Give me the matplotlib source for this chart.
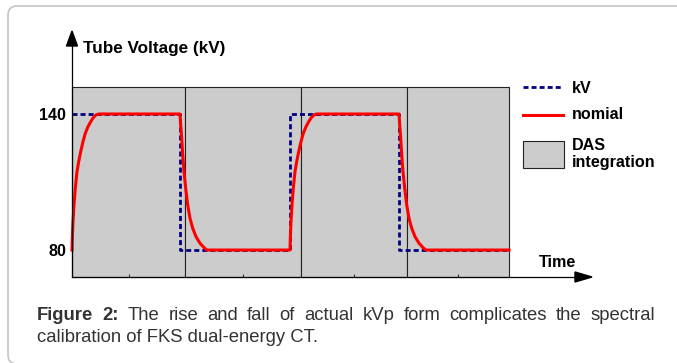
"""Tube voltage switching vs. DAS integration windows (fast kV switching)."""

import matplotlib.pyplot as plt
from matplotlib.patches import Rectangle, FancyBboxPatch, Polygon

plt.rcParams['font.family'] = ['Liberation Sans', 'DejaVu Sans']

# DAS integration windows (time, arbitrary units)
das_edges = [0, 113, 228.5, 335, 437]

# commanded kV: level held from each switch time on
kv_times = [0, 108, 218, 327, 437]
kv_levels = [140, 80, 140, 80, 80]

# actual tube voltage after a switch (offset from switch, kV)
rise_dt = [0, 0.3, 1.0, 2.0, 3.3, 5.0, 6.7, 8.7, 11.0, 13.3, 16.0, 18.7, 21.3, 24.0, 26.7]
rise_kv = [80, 85.1, 92.5, 99.9, 107.2, 114.6, 119.0, 123.4, 127.8, 131.5, 134.4,
           136.6, 138.4, 139.6, 140]
fall_dt = [0, 0.7, 1.7, 2.7, 4.0, 5.7, 7.7, 10.0, 12.7, 16.0, 20.0, 24.0, 26.7]
fall_kv = [140, 135.1, 129.3, 122.0, 114.6, 107.2, 99.9, 94.0, 89.6, 85.9, 83.0, 81.1, 80]

caption_line1 = [('Figure', 'bold'), ('2:', 'bold'), ('The', 'normal'), ('rise', 'normal'),
                 ('and', 'normal'), ('fall', 'normal'), ('of', 'normal'), ('actual', 'normal'),
                 ('kVp', 'normal'), ('form', 'normal'), ('complicates', 'normal'),
                 ('the', 'normal'), ('spectral', 'normal')]
caption_line2 = 'calibration of FKS dual-energy CT.'

# stitch the nominal curve together from the rise/fall pieces
t_nom, v_nom = [], []
for t0, level in zip(kv_times[:-1], kv_levels[:-1]):
    dt, kv = (rise_dt, rise_kv) if level == 140 else (fall_dt, fall_kv)
    t_nom += [t0 + d for d in dt]
    v_nom += kv
t_nom.append(kv_times[-1])
v_nom.append(kv_levels[-1])

W, H = 677, 363
L, R, T, B = 72, 509, 87, 277          # plot box in pixels
YLIM = (68.1, 151.9)
TXT = dict(fontsize=11.6, fontweight='bold', color='black')

fig = plt.figure(figsize=(W / 100, H / 100), dpi=100)
fig.patch.set_facecolor('white')

ax = fig.add_axes([L / W, 1 - B / H, (R - L) / W, (B - T) / H], zorder=1)
ax.set_xlim(das_edges[0], das_edges[-1])
ax.set_ylim(*YLIM)
ax.patch.set_visible(False)
for s in ax.spines.values():
    s.set_visible(False)

for a, b in zip(das_edges[:-1], das_edges[1:]):
    ax.add_patch(Rectangle((a, YLIM[0]), b - a, YLIM[1] - YLIM[0], fc='#cccccc',
                           ec='#222222', lw=0.8, clip_on=False, zorder=1))

ax.plot(kv_times, kv_levels, drawstyle='steps-post', color='#000080', lw=2,
        ls=(0, (1.8, 1.1)), clip_on=False, zorder=3)
ax.plot(t_nom, v_nom, color='#ff0000', lw=2.2, solid_joinstyle='round',
        clip_on=False, zorder=4)

ax.set_xticks([(a + b) / 2 for a, b in zip(das_edges[:-1], das_edges[1:])])
ax.tick_params(axis='x', direction='in', length=2.5, width=0.8, color='#333333',
               labelbottom=False)
ticks = sorted(set(kv_levels))
ax.set_yticks(ticks)
ax.set_yticklabels([str(v) for v in ticks], **TXT)
ax.tick_params(axis='y', length=0, pad=4.3)

# overlay in pixel coordinates for arrows, legend and caption
ov = fig.add_axes([0, 0, 1, 1], zorder=2)
ov.set_xlim(0, W)
ov.set_ylim(H, 0)
ov.axis('off')

ov.add_patch(FancyBboxPatch((8, 6), 720, 358, boxstyle='round,pad=0,rounding_size=9',
                            fc='none', ec='#c4c4c4', lw=1.2))

ov.plot([L, L], [B, 44], color='black', lw=0.9)
ov.add_patch(Polygon([[L - 5.5, 46], [L + 5.5, 46], [L, 31]], color='black'))
ov.plot([L, 577], [B, B], color='black', lw=0.9)
ov.add_patch(Polygon([[575, B - 5], [575, B + 5], [592, B]], color='black'))

ov.text(83, 53, 'Tube Voltage (kV)', va='baseline', **{**TXT, 'fontsize': 12.3})
ov.text(539, 267, 'Time', va='baseline', **TXT)

# legend
ov.plot([523, 563], [87, 87], color='#000080', lw=2, ls=(0, (1.8, 1.1)))
ov.text(572, 93, 'kV', va='baseline', **TXT)
ov.plot([523, 563], [115, 115], color='#ff0000', lw=2.2)
ov.text(572, 119, 'nomial', va='baseline', **TXT)
ov.add_patch(Rectangle((523, 141), 41, 27, fc='#cccccc', ec='#222222', lw=0.8))
ov.text(572, 150, 'DAS', va='baseline', **TXT)
ov.text(572, 167, 'integration', va='baseline', **TXT)

# justified caption
renderer = fig.canvas.get_renderer()
CAP = dict(fontsize=13.3, color='#333333', va='baseline')
x0, x1 = 37, 655
words = [ov.text(0, 320, w, fontweight=wt, **CAP) for w, wt in caption_line1]
widths = [t.get_window_extent(renderer).width for t in words]
gap = (x1 - x0 - sum(widths)) / (len(words) - 1)
x = x0
for t, w in zip(words, widths):
    t.set_x(x)
    x += w + gap
ov.text(x0, 342, caption_line2, **CAP)

fig.savefig('out.png', dpi=100)
plt.close()
